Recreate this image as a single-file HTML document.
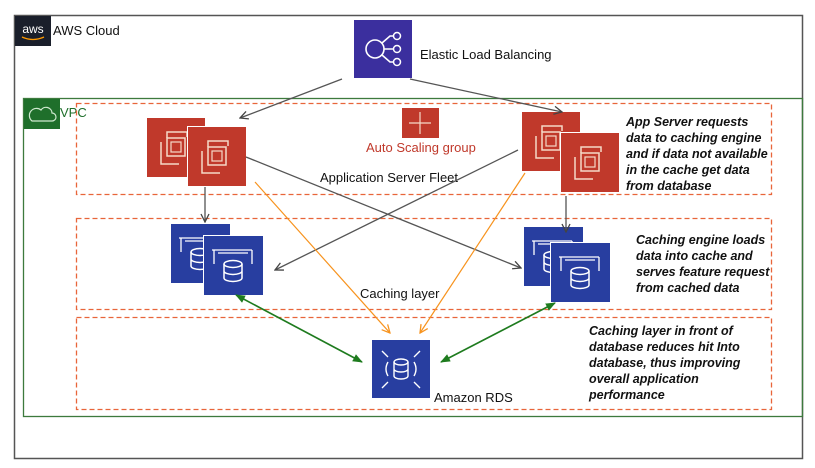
<!DOCTYPE html>
<html><head><style>
html,body{margin:0;padding:0;background:#fff;}
svg{display:block;font-family:"Liberation Sans",sans-serif;}
.it{font-style:italic;font-weight:bold;font-size:12.5px;fill:#111;}
</style></head><body>
<svg width="815" height="468" viewBox="0 0 815 468" xmlns="http://www.w3.org/2000/svg">
<defs>
<marker id="ag" markerWidth="10" markerHeight="10" refX="9" refY="5" orient="auto" markerUnits="userSpaceOnUse"><path d="M1,1 L9,5 L1,9" fill="none" stroke="#444" stroke-width="1.3"/></marker>
<marker id="ao" markerWidth="10" markerHeight="10" refX="9" refY="5" orient="auto" markerUnits="userSpaceOnUse"><path d="M1,1 L9,5 L1,9" fill="none" stroke="#f7931e" stroke-width="1.3"/></marker>
<marker id="gg" markerWidth="10" markerHeight="10" refX="9" refY="5" orient="auto-start-reverse" markerUnits="userSpaceOnUse"><path d="M0,1 L10,5 L0,9 z" fill="#1e7b1e"/></marker>
<g id="ec2">
<rect width="58" height="59" fill="#c0392b"/>
<path d="M14,24 v22 h18 M20,20 v-6 h20 v5" fill="none" stroke="#f5d9c8" stroke-width="1.5"/>
<rect x="20" y="20" width="18" height="18" fill="none" stroke="#f5d9c8" stroke-width="1.5"/>
<rect x="24" y="24" width="10" height="10" fill="none" stroke="#f5d9c8" stroke-width="1.2"/>
</g>
<g id="cache">
<rect width="59" height="59" fill="#283ea0"/>
<path d="M8,14 h40 M10,14 v14 M48,14 v14 M14,17 h30" fill="none" stroke="#fff" stroke-width="1.3"/>
<ellipse cx="29" cy="28" rx="9" ry="3.5" fill="none" stroke="#fff" stroke-width="1.5"/>
<path d="M20,28 v14 a9,3.5 0 0 0 18,0 v-14 M20,35 a9,3.5 0 0 0 18,0" fill="none" stroke="#fff" stroke-width="1.5"/>
</g>
</defs>
<!-- AWS cloud -->
<rect x="14.5" y="15.5" width="788" height="443" fill="none" stroke="#555" stroke-width="1.5"/>
<rect x="15" y="16" width="36" height="30" fill="#1a1f2b"/>
<text x="33" y="33" font-size="12" fill="#fff" text-anchor="middle">aws</text>
<path d="M22,37 q11,5 22,0" fill="none" stroke="#f90" stroke-width="1.3"/>
<text x="53" y="35" font-size="13" fill="#111">AWS Cloud</text>
<!-- VPC -->
<rect x="23.5" y="98.5" width="779" height="318" fill="none" stroke="#3d7a3d" stroke-width="1.3"/>
<rect x="24" y="99" width="36" height="30" fill="#1f6f2b"/>
<path d="M32,121 h20 a4,4 0 0 0 0,-8 a6,6 0 0 0 -11,-3 a5,5 0 0 0 -9,11z" fill="none" stroke="#cfe9cf" stroke-width="1.2"/>
<text x="60" y="117" font-size="13" fill="#1f6f2b">VPC</text>
<!-- dashed boxes -->
<g fill="none" stroke="#e8653a" stroke-width="1.3" stroke-dasharray="5,3">
<rect x="76.5" y="103.5" width="695" height="91"/>
<rect x="76.5" y="218.5" width="695" height="91"/>
<rect x="76.5" y="317.5" width="695" height="92"/>
</g>
<!-- ELB -->
<rect x="354" y="20" width="58" height="58" fill="#3b2f9e"/>
<circle cx="375" cy="49" r="9" fill="none" stroke="#fff" stroke-width="1.6"/>
<path d="M384,49 h10 M382,43 l8,-7 h4 M382,55 l8,7 h4" fill="none" stroke="#fff" stroke-width="1.6"/>
<circle cx="397" cy="36" r="3.5" fill="none" stroke="#fff" stroke-width="1.5"/>
<circle cx="397" cy="49" r="3.5" fill="none" stroke="#fff" stroke-width="1.5"/>
<circle cx="397" cy="62" r="3.5" fill="none" stroke="#fff" stroke-width="1.5"/>
<text x="420" y="59" font-size="13" fill="#111">Elastic Load Balancing</text>
<!-- Auto scaling -->
<rect x="402" y="108" width="37" height="30" fill="#c0392b"/>
<path d="M420,112 v22 M409,123 h22" stroke="#f5d9c8" stroke-width="1.2"/>
<text x="366" y="152" font-size="13" fill="#c0392b">Auto Scaling group</text>
<text x="320" y="182" font-size="13" fill="#111">Application Server Fleet</text>
<!-- EC2s -->
<use href="#ec2" x="147" y="118"/>
<g><rect x="187" y="126" width="60" height="61" fill="#fff"/><use href="#ec2" x="188" y="127"/></g>
<use href="#ec2" x="522" y="112"/>
<g><rect x="560" y="132" width="60" height="61" fill="#fff"/><use href="#ec2" x="561" y="133"/></g>
<!-- caches -->
<use href="#cache" x="171" y="224"/>
<g><rect x="203" y="235" width="61" height="61" fill="#fff"/><use href="#cache" x="204" y="236"/></g>
<use href="#cache" x="524" y="227"/>
<g><rect x="550" y="242" width="61" height="61" fill="#fff"/><use href="#cache" x="551" y="243"/></g>
<text x="360" y="298" font-size="13" fill="#111">Caching layer</text>
<!-- RDS -->
<rect x="372" y="340" width="58" height="58" fill="#283ea0"/>
<ellipse cx="401" cy="362" rx="7" ry="3" fill="none" stroke="#fff" stroke-width="1.4"/>
<path d="M394,362 v14 a7,3 0 0 0 14,0 v-14 M394,369 a7,3 0 0 0 14,0" fill="none" stroke="#fff" stroke-width="1.4"/>
<path d="M388,362 q-4,7 0,14 M414,362 q4,7 0,14 M382,351 l6,6 M420,351 l-6,6 M382,388 l6,-6 M420,388 l-6,-6" fill="none" stroke="#fff" stroke-width="1.4"/>
<text x="434" y="402" font-size="13" fill="#111">Amazon RDS</text>
<!-- connectors -->
<g stroke="#555" stroke-width="1.3" fill="none">
<line x1="342" y1="79" x2="240" y2="118" marker-end="url(#ag)"/>
<line x1="410" y1="79" x2="562" y2="112" marker-end="url(#ag)"/>
<line x1="246" y1="157" x2="521" y2="268" marker-end="url(#ag)"/>
<line x1="518" y1="150" x2="275" y2="270" marker-end="url(#ag)"/>
<line x1="205" y1="187" x2="205" y2="222" marker-end="url(#ag)"/>
<line x1="566" y1="196" x2="566" y2="232" marker-end="url(#ag)"/>
</g>
<g stroke="#f7931e" stroke-width="1.2" fill="none">
<line x1="255" y1="182" x2="390" y2="333" marker-end="url(#ao)"/>
<line x1="525" y1="173" x2="420" y2="333" marker-end="url(#ao)"/>
</g>
<g stroke="#1e7b1e" stroke-width="1.6" fill="none">
<line x1="236" y1="295" x2="362" y2="362" marker-start="url(#gg)" marker-end="url(#gg)"/>
<line x1="555" y1="303" x2="441" y2="362" marker-start="url(#gg)" marker-end="url(#gg)"/>
</g>
<!-- annotations -->
<text class="it" x="626" y="126">App Server requests</text>
<text class="it" x="626" y="142">data to caching engine</text>
<text class="it" x="626" y="158">and if data not available</text>
<text class="it" x="626" y="174">in the cache get data</text>
<text class="it" x="626" y="190">from database</text>
<text class="it" x="636" y="244">Caching engine loads</text>
<text class="it" x="636" y="260">data into cache and</text>
<text class="it" x="636" y="276">serves feature request</text>
<text class="it" x="636" y="292">from cached data</text>
<text class="it" x="589" y="335">Caching layer in front of</text>
<text class="it" x="589" y="351">database reduces hit Into</text>
<text class="it" x="589" y="367">database, thus improving</text>
<text class="it" x="589" y="383">overall application</text>
<text class="it" x="589" y="399">performance</text>
</svg>
</body></html>
